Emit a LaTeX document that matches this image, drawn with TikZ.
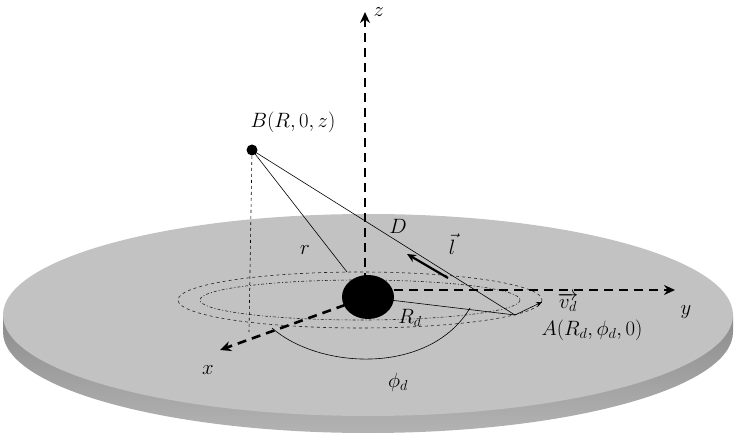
\documentclass[tikz,border=0pt]{standalone}
\usetikzlibrary{arrows.meta}
\begin{document}
\begin{tikzpicture}[x=1pt,y=-1pt,
    every node/.style={font=\fontsize{20}{22}\selectfont},
    axis/.style={line width=2.6pt,dash pattern=on 9pt off 6pt,-{Stealth[length=11pt,width=10pt]}},
    thin line/.style={line width=0.6pt}]
    \useasboundingbox (0,0) rectangle (737,441);
    % disk
    \shade[top color=black!45,bottom color=black!30] (3,315) -- (3,332) arc[start angle=180,end angle=0,x radius=365,y radius=101] -- (733,315) -- cycle;
    \fill[black!24] (368,315) ellipse[x radius=365,y radius=101];
    % orbits
    \draw[dashed,gray!30!black,thin line] (360,300) ellipse[x radius=182,y radius=28];
    \draw[dash pattern=on 3pt off 2pt on 1pt off 2pt,gray!30!black,thin line] (360,300) ellipse[x radius=160,y radius=20];
    % axes
    \draw[axis] (365,282) -- (365,12) node[right,xshift=4pt] {$z$};
    \draw[axis] (394,290) -- (675,290);
    \node (ylab) at (686,312) {$y$};
    \draw[axis] (345,305) -- (220,350);
    \node (xlab) at (208,370) {$x$};
    % points
    \coordinate (A) at (515,315);
    \node[circle,fill=black,inner sep=0pt,minimum size=11pt] (B) at (252,150) {};
    \node (Blab) at (293,122) {$B(R,0,z)$};
    \node (Alab) at (592,330) {$A(R_d,\phi_d,0)$};
    \draw[thin line] (B.center) -- (347,272);
    \draw[thin line] (B.center) -- (A);
    \draw[thin line,dashed] (B.center) -- (249,332);
    \draw[thin line] (390,300) -- (A);
    \fill[black] (368,297) ellipse[x radius=26,y radius=22];
    % vectors
    \draw[line width=2.2pt,-{Stealth[length=9pt,width=8pt]}] (448,278) -- (407,254);
    \draw[thin line,-{Stealth[length=6pt,width=5pt]}] (A) -- (542,302);
    \node (D) at (398,226) {$D$};
    \node (r) at (305,250) {$r$};
    \node (l) at (452,244) {$\vec{l}$};
    \node (vd) at (568,302) {$\overrightarrow{v_d}$};
    \node (Rd) at (410,318) {$R_d$};
    % angle
    \draw[thin line] (272,328) .. controls (320,370) and (430,375) .. (470,308);
    \node (phid) at (398,382) {$\phi_d$};
\end{tikzpicture}
\end{document}
